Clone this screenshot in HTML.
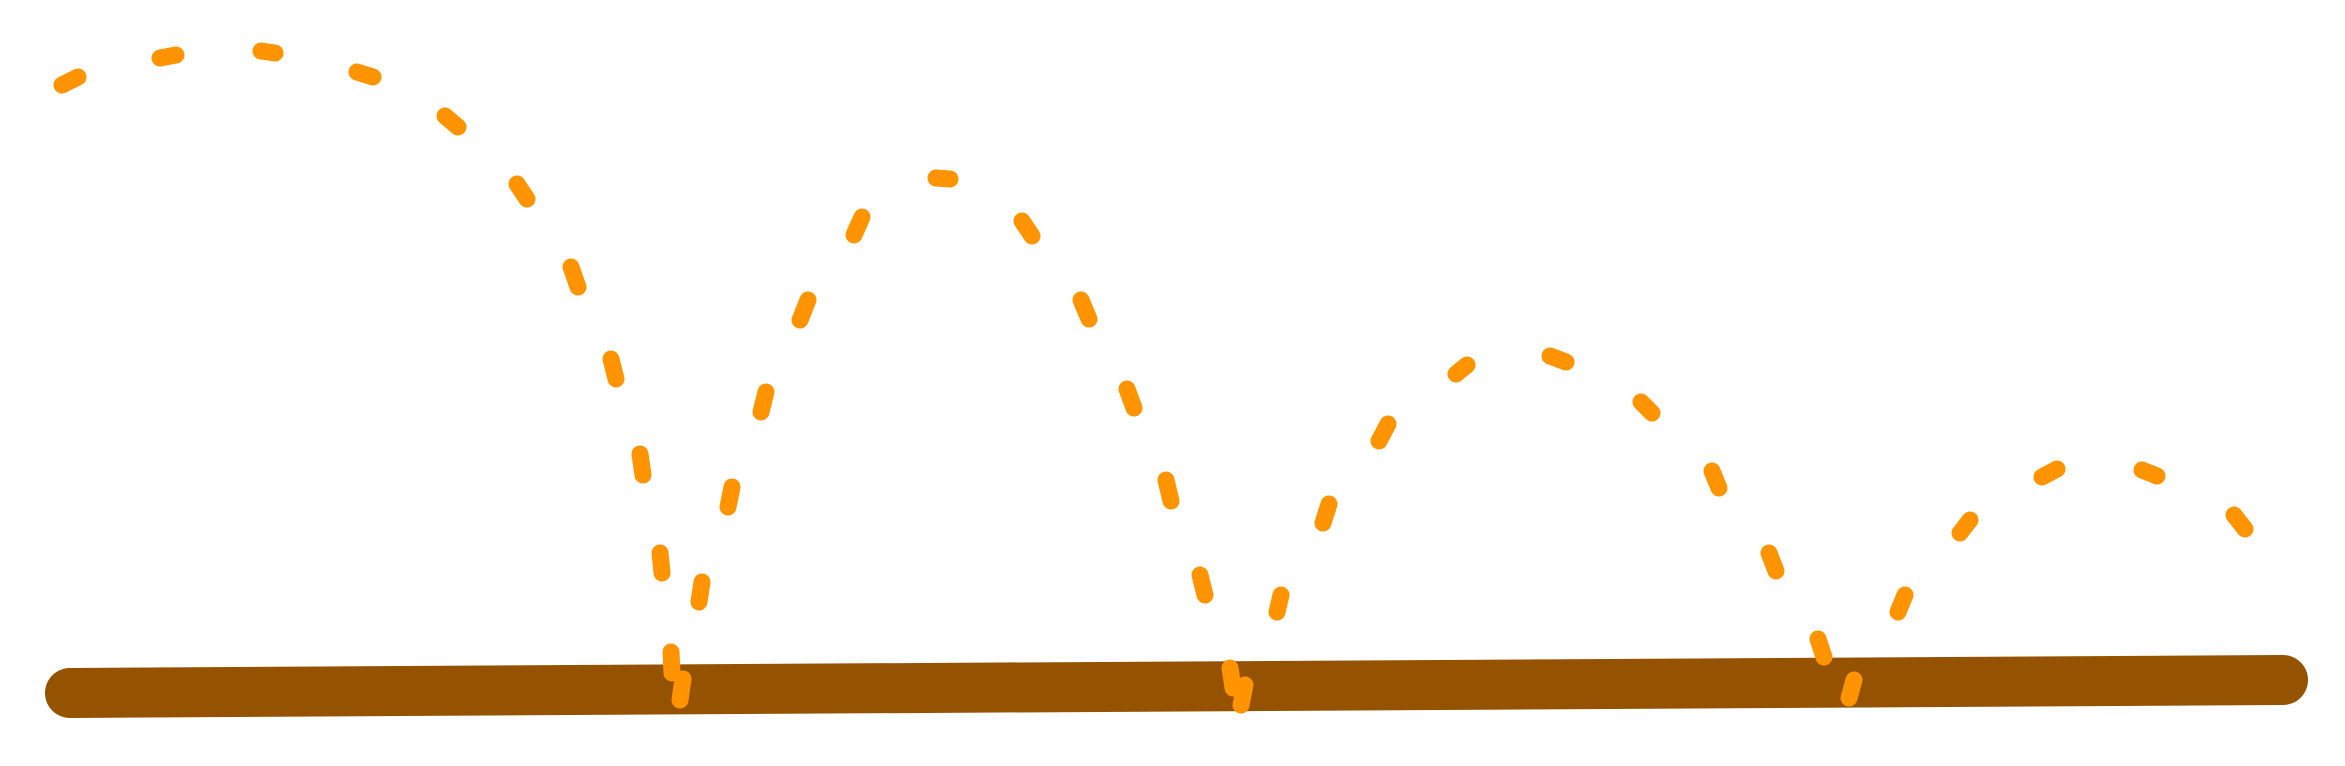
<!DOCTYPE html>
<html><head><style>html,body{margin:0;padding:0;background:#fff;}svg{display:block;}</style></head>
<body>
<svg width="2345" height="766" viewBox="0 0 2345 766" xmlns="http://www.w3.org/2000/svg">
<line x1="70" y1="693" x2="2283" y2="680" stroke="#955200" stroke-width="50" stroke-linecap="round"/>
<g stroke="#ff9400" stroke-width="17" stroke-linecap="round" fill="none">
<line x1="62" y1="85" x2="78" y2="77"/>
<line x1="160" y1="58" x2="176" y2="55"/>
<line x1="261" y1="51" x2="275" y2="53"/>
<line x1="357" y1="72" x2="373" y2="77"/>
<line x1="445" y1="116" x2="458" y2="127"/>
<line x1="517" y1="184" x2="527" y2="199"/>
<line x1="571" y1="267" x2="578" y2="287"/>
<line x1="611" y1="359" x2="616" y2="379"/>
<line x1="640" y1="454" x2="643" y2="475"/>
<line x1="660" y1="553" x2="662" y2="573"/>
<line x1="671" y1="652" x2="672" y2="673"/>
<line x1="683" y1="679" x2="680" y2="700"/>
<line x1="702" y1="582" x2="699" y2="602"/>
<line x1="732" y1="487" x2="728" y2="507"/>
<line x1="766" y1="392" x2="761" y2="412"/>
<line x1="808" y1="300" x2="800" y2="320"/>
<line x1="862" y1="217" x2="854" y2="235"/>
<line x1="936" y1="178" x2="950" y2="179"/>
<line x1="1022" y1="221" x2="1032" y2="236"/>
<line x1="1081" y1="300" x2="1089" y2="319"/>
<line x1="1127" y1="389" x2="1134" y2="408"/>
<line x1="1166" y1="480" x2="1171" y2="501"/>
<line x1="1200" y1="575" x2="1205" y2="595"/>
<line x1="1230" y1="668" x2="1233" y2="688"/>
<line x1="1245" y1="685" x2="1241" y2="705"/>
<line x1="1281" y1="595" x2="1277" y2="612"/>
<line x1="1329" y1="504" x2="1323" y2="523"/>
<line x1="1388" y1="424" x2="1379" y2="441"/>
<line x1="1467" y1="365" x2="1456" y2="374"/>
<line x1="1550" y1="356" x2="1566" y2="362"/>
<line x1="1641" y1="402" x2="1652" y2="413"/>
<line x1="1712" y1="471" x2="1719" y2="488"/>
<line x1="1769" y1="553" x2="1776" y2="571"/>
<line x1="1818" y1="639" x2="1824" y2="657"/>
<line x1="1854" y1="680" x2="1849" y2="698"/>
<line x1="1905" y1="595" x2="1898" y2="612"/>
<line x1="1970" y1="520" x2="1960" y2="533"/>
<line x1="2057" y1="469" x2="2042" y2="477"/>
<line x1="2142" y1="470" x2="2157" y2="476"/>
<line x1="2234" y1="515" x2="2245" y2="529"/>
</g>
</svg>
</body></html>
